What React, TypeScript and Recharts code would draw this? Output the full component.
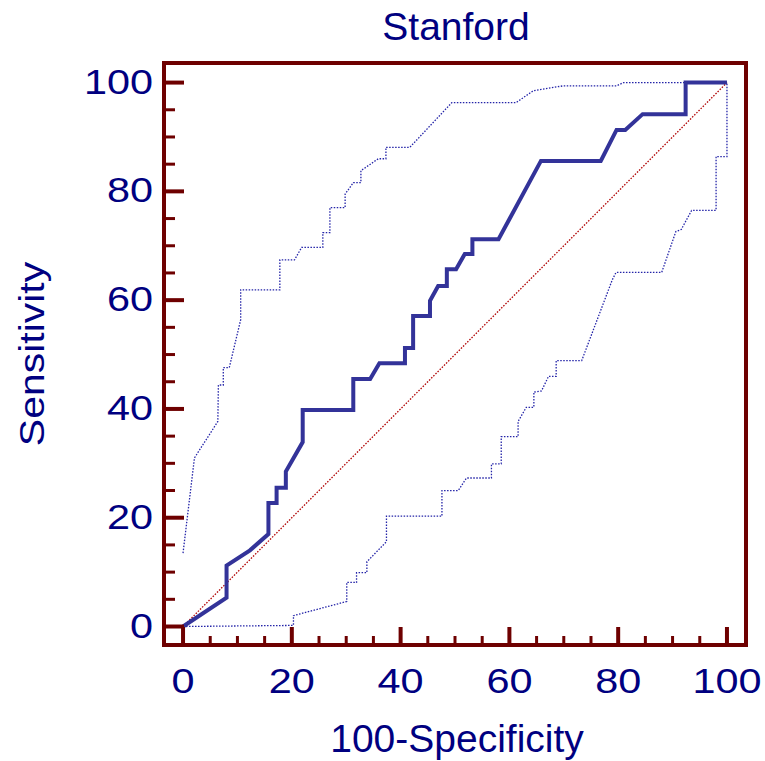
import { ComposedChart, Line, XAxis, YAxis } from 'recharts'

// ROC curve and its confidence bounds as [100-specificity, sensitivity]
const rocCurve: [number, number][] = [
  [0, 0], [8.0, 5.3], [8.0, 11.2], [12.3, 14.0], [15.7, 17.0], [15.7, 22.7], [17.2, 22.7],
  [17.2, 25.5], [18.9, 25.5], [18.9, 28.5], [22.0, 33.9], [22.0, 39.8], [31.3, 39.8],
  [31.3, 45.5], [34.4, 45.5], [36.1, 48.4], [40.8, 48.4], [40.8, 51.2], [42.3, 51.2],
  [42.3, 57.1], [45.4, 57.1], [45.4, 59.9], [46.9, 62.6], [48.5, 62.6], [48.5, 65.7],
  [50.2, 65.7], [51.8, 68.5], [53.2, 68.5], [53.2, 71.2], [58.0, 71.2], [65.8, 85.6],
  [76.8, 85.6], [79.7, 91.3], [81.3, 91.3], [84.5, 94.2], [92.4, 94.2], [92.4, 100],
  [100, 100],
]

const upperBound: [number, number][] = [
  [0, 13.5], [2.1, 31.0], [6.4, 37.7], [6.5, 44.4], [7.4, 44.4], [7.4, 47.6], [8.5, 47.6],
  [10.6, 56.4], [10.6, 61.9], [17.8, 61.9], [17.8, 67.4], [20.5, 67.4], [21.8, 69.7],
  [25.7, 69.7], [25.7, 72.4], [27.0, 72.4], [27.0, 77.0], [29.8, 77.0], [29.8, 79.5],
  [31.3, 81.6], [32.7, 81.6], [32.7, 83.8], [34.3, 84.9], [35.9, 86.0], [37.3, 86.0],
  [37.3, 88.1], [41.7, 88.1], [49.4, 96.3], [61.2, 96.3], [64.4, 98.5], [69.9, 99.4],
  [79.7, 99.4], [81.0, 100], [100, 100],
]

const lowerBound: [number, number][] = [
  [0, 0], [20.3, 0.2], [20.3, 2.0], [30.1, 4.6], [30.1, 8.1], [31.9, 8.1], [31.9, 9.9],
  [33.8, 9.9], [33.8, 11.9], [37.4, 15.6], [37.4, 20.3], [47.6, 20.3], [47.6, 25.0],
  [50.6, 25.0], [52.1, 27.3], [56.7, 27.3], [56.7, 29.9], [58.5, 29.9], [58.5, 34.9],
  [61.6, 34.9], [61.6, 37.7], [63.1, 40.3], [64.5, 40.3], [64.5, 43.1], [65.9, 43.3],
  [67.2, 46.0], [68.6, 46.0], [68.6, 48.9], [73.3, 48.9], [78.9, 63.7], [79.6, 65.1],
  [88.0, 65.1], [90.6, 72.6], [91.6, 73.0], [93.5, 76.5], [98.0, 76.5], [98.0, 86.4],
  [100, 86.4], [100, 100],
]

const diagonal: [number, number][] = [[0, 0], [100, 100]]

const axisTicks = [0, 5, 10, 15, 20, 25, 30, 35, 40, 45, 50, 55, 60, 65, 70, 75, 80, 85, 90, 95, 100]

const FRAME = '#6e0000'
const TEXT = '#000080'
const CURVE = '#333399'
const FONT = '"Liberation Sans", Arial, sans-serif'

const toPoints = (pts: [number, number][]) => pts.map(([x, y]) => ({ x, y }))

const XTick = (props: any) => {
  const { x, y, payload } = props
  const major = payload.value % 20 === 0
  return (
    <g>
      <line x1={x} x2={x} y1={y} y2={y - (major ? 18 : 9)} stroke={FRAME} strokeWidth={major ? 4 : 3} />
      {major && (
        <g transform={`translate(${x},${y + 48}) scale(1.15,1)`}>
          <text x={0} y={0} textAnchor="middle" fill={TEXT} fontSize={36} fontFamily={FONT}>
            {payload.value}
          </text>
        </g>
      )}
    </g>
  )
}

const YTick = (props: any) => {
  const { x, y, payload } = props
  const major = payload.value % 20 === 0
  return (
    <g>
      <line x1={x} x2={x + (major ? 20 : 11)} y1={y} y2={y} stroke={FRAME} strokeWidth={major ? 4 : 3} />
      {major && (
        <g transform={`translate(${x - 11},${y + 11}) scale(1.15,1)`}>
          <text x={0} y={0} textAnchor="end" fill={TEXT} fontSize={36} fontFamily={FONT}>
            {payload.value}
          </text>
        </g>
      )}
    </g>
  )
}

const frameLine = { stroke: FRAME, strokeWidth: 4, strokeLinecap: 'square' as const }

export default function App() {
  return (
    <div style={{ position: 'absolute', left: 0, top: 0, width: 765, height: 761, background: '#fff' }}>
      <ComposedChart
        width={765}
        height={761}
        margin={{ top: 62, right: 18, bottom: 56, left: 84 }}
      >
        <XAxis
          type="number"
          dataKey="x"
          domain={[-3.5, 103.5]}
          ticks={axisTicks}
          interval={0}
          height={60}
          tickSize={0}
          tickMargin={0}
          tickLine={false}
          axisLine={frameLine}
          tick={<XTick />}
          allowDataOverflow
        />
        <XAxis
          xAxisId="top"
          orientation="top"
          type="number"
          dataKey="x"
          domain={[-3.5, 103.5]}
          height={1}
          tick={false}
          tickLine={false}
          axisLine={frameLine}
          allowDataOverflow
        />
        <YAxis
          type="number"
          dataKey="y"
          domain={[-3.4, 103.6]}
          ticks={axisTicks}
          interval={0}
          width={80}
          tickSize={0}
          tickMargin={0}
          tickLine={false}
          axisLine={frameLine}
          tick={<YTick />}
          allowDataOverflow
        />
        <YAxis
          yAxisId="right"
          orientation="right"
          type="number"
          dataKey="y"
          domain={[-3.4, 103.6]}
          width={1}
          tick={false}
          tickLine={false}
          axisLine={frameLine}
          allowDataOverflow
        />
        <Line
          data={toPoints(diagonal)}
          dataKey="y"
          type="linear"
          stroke="#b00000"
          strokeWidth={1.3}
          strokeDasharray="1.5 1.5"
          dot={false}
          activeDot={false}
          isAnimationActive={false}
        />
        <Line
          data={toPoints(upperBound)}
          dataKey="y"
          type="linear"
          stroke="#2424a8"
          strokeWidth={1.3}
          strokeDasharray="1.5 1.5"
          dot={false}
          activeDot={false}
          isAnimationActive={false}
        />
        <Line
          data={toPoints(lowerBound)}
          dataKey="y"
          type="linear"
          stroke="#2424a8"
          strokeWidth={1.3}
          strokeDasharray="1.5 1.5"
          dot={false}
          activeDot={false}
          isAnimationActive={false}
        />
        <Line
          data={toPoints(rocCurve)}
          dataKey="y"
          type="linear"
          stroke={CURVE}
          strokeWidth={4}
          strokeLinejoin="miter"
          dot={false}
          activeDot={false}
          isAnimationActive={false}
        />
      </ComposedChart>
      <svg
        width={765}
        height={761}
        style={{ position: 'absolute', left: 0, top: 0, pointerEvents: 'none' }}
      >
        <text x={456} y={40} textAnchor="middle" fill={TEXT} fontSize={39} fontFamily={FONT}>
          Stanford
        </text>
        <text x={457} y={752} textAnchor="middle" fill={TEXT} fontSize={39} fontFamily={FONT}>
          100-Specificity
        </text>
        <g transform="translate(44,354) rotate(-90) scale(1.17,1)">
          <text x={0} y={0} textAnchor="middle" fill={TEXT} fontSize={35} fontFamily={FONT}>
            Sensitivity
          </text>
        </g>
      </svg>
    </div>
  )
}
